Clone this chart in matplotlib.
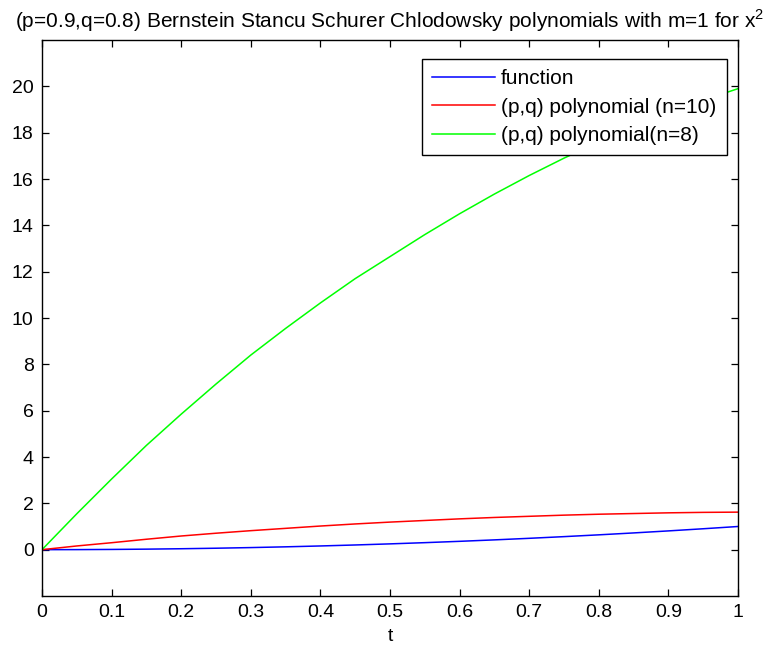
import numpy as np
import matplotlib
matplotlib.use("Agg")
import matplotlib.pyplot as plt

plt.rcParams['font.family'] = ['Liberation Sans', 'DejaVu Sans']
plt.rcParams['mathtext.fontset'] = 'custom'
plt.rcParams['mathtext.rm'] = 'Liberation Sans'

# values, t step 0.05
t = [0, 0.05, 0.1, 0.15, 0.2, 0.25, 0.3, 0.35, 0.4, 0.45, 0.5,
     0.55, 0.6, 0.65, 0.7, 0.75, 0.8, 0.85, 0.9, 0.95, 1.0]
func = [0, 0.0025, 0.01, 0.0225, 0.04, 0.0625, 0.09, 0.1225, 0.16, 0.2025, 0.25,
        0.3025, 0.36, 0.4225, 0.49, 0.5625, 0.64, 0.7225, 0.81, 0.9025, 1.0]
poly10 = [0, 0.16, 0.30, 0.45, 0.59, 0.71, 0.82, 0.92, 1.02, 1.11, 1.19,
          1.26, 1.33, 1.39, 1.44, 1.49, 1.53, 1.56, 1.59, 1.61, 1.62]
poly8 = [0, 1.55, 3.05, 4.5, 5.85, 7.15, 8.4, 9.55, 10.65, 11.7, 12.65,
         13.6, 14.5, 15.35, 16.15, 16.9, 17.6, 18.25, 18.85, 19.4, 19.9]

labels = ['function', '(p,q) polynomial (n=10)', '(p,q) polynomial(n=8)']
xticks = [0, 0.1, 0.2, 0.3, 0.4, 0.5, 0.6, 0.7, 0.8, 0.9, 1]
xticklabels = ['0', '0.1', '0.2', '0.3', '0.4', '0.5', '0.6', '0.7', '0.8', '0.9', '1']
yticks = [0, 2, 4, 6, 8, 10, 12, 14, 16, 18, 20]

fig = plt.figure(figsize=(7.67, 6.5), dpi=100)
ax = fig.add_axes([42/767, 1 - 596/650, 696/767, 556/650])

ax.plot(t, func, color=(0, 0, 1), lw=1.1, label=labels[0])
ax.plot(t, poly10, color=(1, 0, 0), lw=1.1, label=labels[1])
ax.plot(t, poly8, color=(0, 1, 0), lw=1.1, label=labels[2])

ax.set_xlim(0, 1)
ax.set_ylim(-2, 22)
ax.set_xticks(xticks)
ax.set_xticklabels(xticklabels)
ax.set_yticks(yticks)
ax.tick_params(direction='in', top=True, right=True, length=5, width=0.9,
               labelsize=14, pad=6)
for s in ax.spines.values():
    s.set_linewidth(1.0)

ax.set_xlabel('t', fontsize=14, labelpad=5)
ax.set_title('(p=0.9,q=0.8) Bernstein Stancu Schurer Chlodowsky polynomials with m=1 for x$^\\mathrm{2}$',
             fontsize=15, pad=9)

leg = ax.legend(loc='upper right', bbox_to_anchor=(0.984, 0.966), fontsize=15,
                fancybox=False, framealpha=1, edgecolor='black', borderpad=0.5,
                labelspacing=0.45, handlelength=3.0, handletextpad=0.3,
                borderaxespad=0)
leg.get_frame().set_linewidth(1.0)

fig.savefig('out.png', dpi=100)
